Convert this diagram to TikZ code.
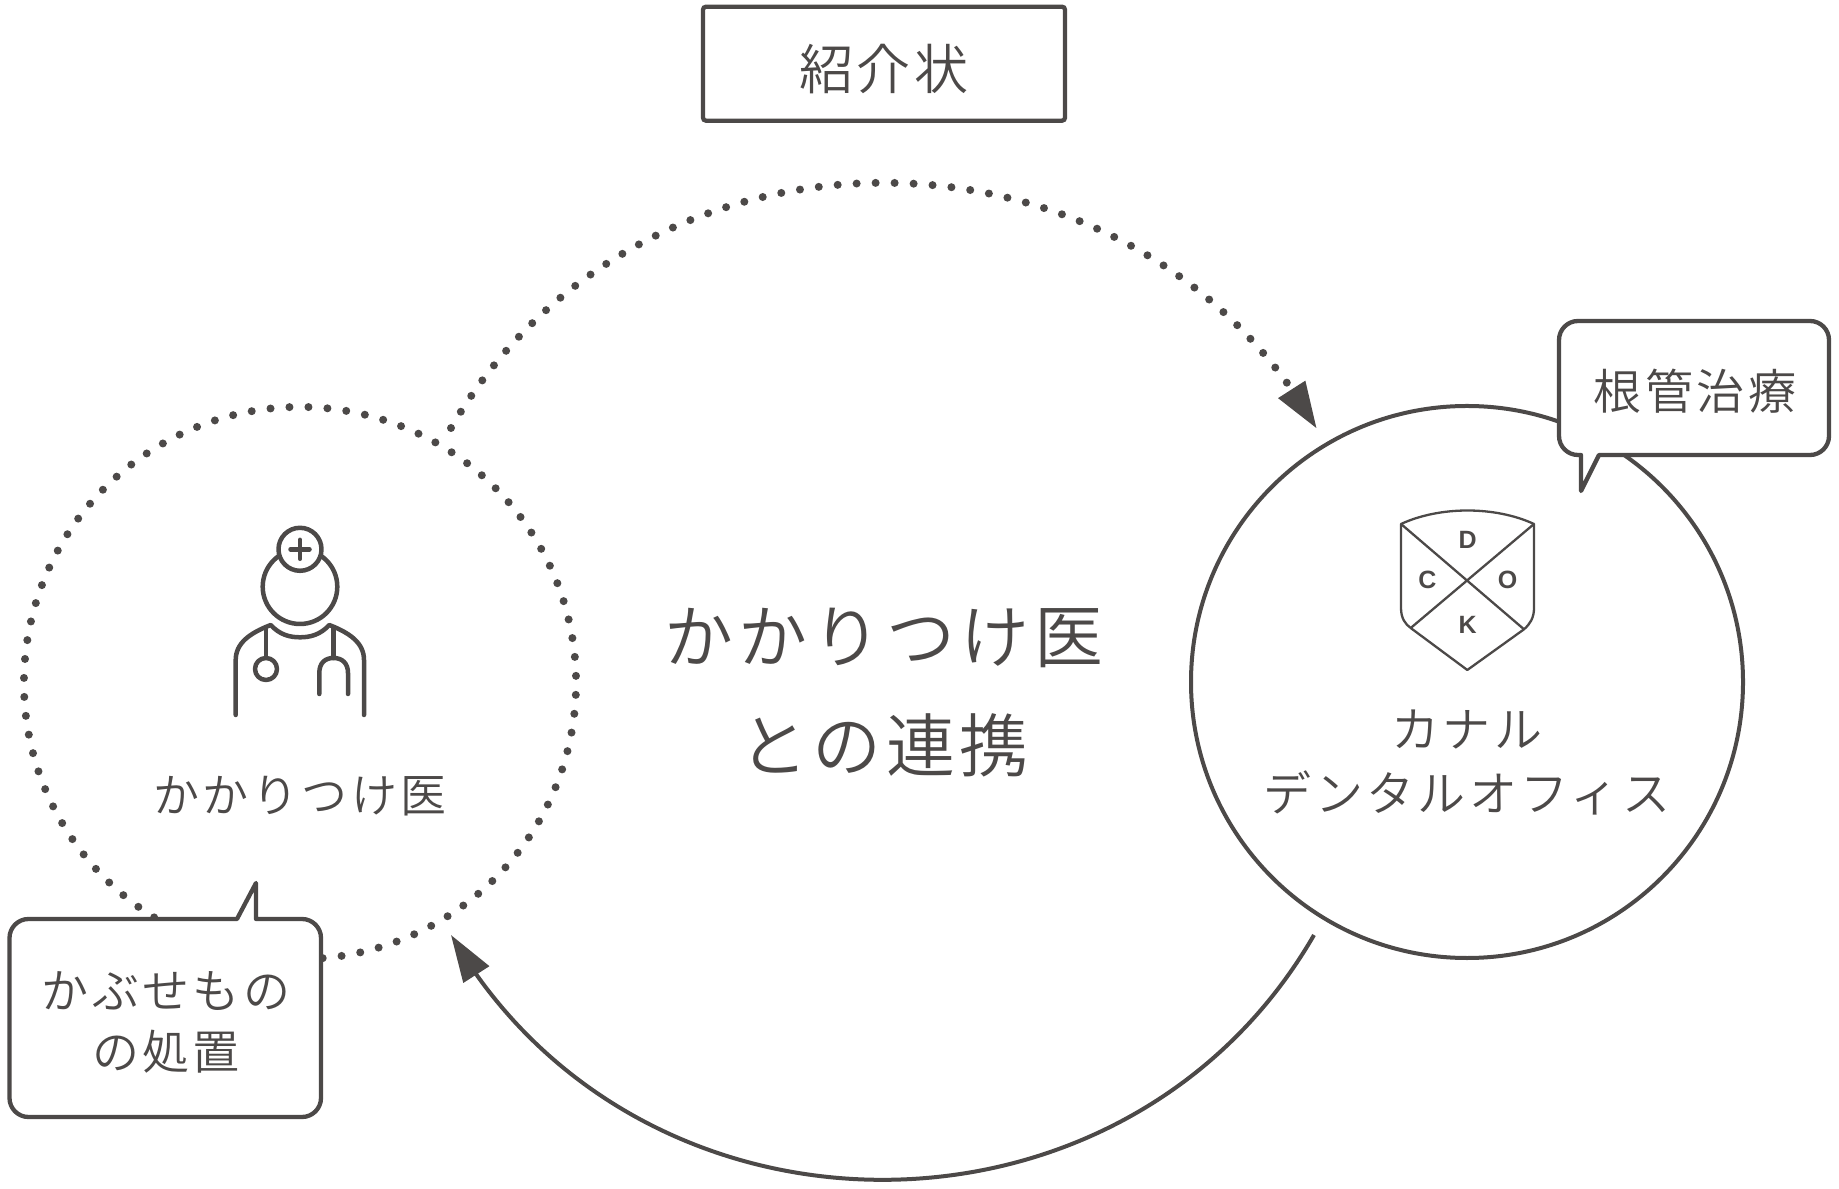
\documentclass[tikz,border=0pt]{standalone}
\usepackage{fontspec}
\usetikzlibrary{arrows.meta,bending}
\newfontfamily\jpfont[LetterSpace=7]{Noto Sans CJK JP DemiLight}
\newfontfamily\logofont{Liberation Sans}[BoldFont={Liberation Sans Bold}]
\definecolor{inkgray}{HTML}{4C4948}
\tikzset{
  jplabel/.style={text=inkgray,align=center,inner sep=0pt,font=\jpfont\fontsize{46bp}{61bp}\selectfont},
  biglabel/.style={jplabel,font=\jpfont\fontsize{69bp}{109bp}\selectfont},
  logoletter/.style={text=inkgray,inner sep=0pt,font=\logofont\bfseries\fontsize{25bp}{25bp}\selectfont},
  bubble/.style={draw=inkgray,fill=white,line width=4.3bp,line join=round},
  solidcircle/.style={circle,draw=inkgray,line width=4bp,minimum size=552bp,inner sep=0pt},
  dotcircle/.style={circle,draw=inkgray,line width=8bp,line cap=round,dash pattern=on 0pt off 19bp,minimum size=552bp,inner sep=0pt},
  iconline/.style={draw=inkgray,line width=4.5bp,line cap=round,line join=round},
  shieldline/.style={draw=inkgray,line width=2.3bp,line join=round},
  bigarrow/.style={draw=inkgray,-{Triangle[length=47bp,width=30bp,fill=inkgray,flex]}},
}
\begin{document}
\begin{tikzpicture}[x=1bp,y=1bp]
\useasboundingbox (0,0) rectangle (1839,1188);
%%
\coordinate (top_start) at (451,760);
\coordinate (top_end) at (1317,759);
\coordinate (bottom_start) at (1314,253);
\coordinate (bottom_end) at (451,253);
\node (doctor_circle) at (300,505) [dotcircle,rotate=-105] {};
\node (clinic_circle) at (1467,506) [solidcircle] {};
\draw [bigarrow,line width=8bp,line cap=round,dash pattern=on 0pt off 19bp] (top_start) to [bend left=60,looseness=1.12] (top_end);
\draw [bigarrow,line width=4bp] (bottom_start) to [bend left=60,looseness=1.12] (bottom_end);
%
\node (letter_box) at (884,1124.3) [draw=inkgray,line width=4.3bp,rounded corners=3bp,minimum width=362bp,minimum height=114bp] {};
\node (letter_label) at (884,1119) [jplabel,font=\jpfont\fontsize{54bp}{60bp}\selectfont] {紹介状};
\node (center_label) at (884,495.5) [biglabel] {かかりつけ医\\との連携};
\node (doctor_label) at (300,392) [jplabel] {かかりつけ医};
\node (clinic_label) at (1467,425) [jplabel,font=\jpfont\fontsize{48bp}{64bp}\selectfont] {カナル\\デンタルオフィス};
% bubbles
\draw [bubble,rounded corners=19bp] (1559,733) -- (1559,867) -- (1829,867) -- (1829,733) [sharp corners] -- (1599,733) -- (1581,697) -- (1581,733) [rounded corners=19bp] -- cycle;
\node (root_label) at (1695,797) [jplabel,font=\jpfont\fontsize{48bp}{61bp}\selectfont] {根管治療};
\draw [bubble,rounded corners=19bp] (9.5,71) -- (9.5,269) [sharp corners] -- (237,269) -- (256,305) -- (256,269) [rounded corners=19bp] -- (321,269) -- (321,71) -- cycle;
\node (crown_label) at (166,166) [jplabel,font=\jpfont\fontsize{47bp}{61bp}\selectfont] {かぶせもの\\の処置};
% doctor icon
\draw [iconline] (300,601.3) circle [radius=37.3];
\draw [iconline,fill=white] (300,638.7) circle [radius=21.5];
\draw [iconline] (290.5,638.7) -- (309.5,638.7) (300,629.2) -- (300,648.2);
\draw [iconline] (235.7,473) -- (235.7,528) .. controls (235.7,545) and (250,555) .. (270.7,563) .. controls (280,553) and (290,550.7) .. (300,550.7) .. controls (310,550.7) and (320,553) .. (329.3,563) .. controls (350,555) and (364,545) .. (364,528) -- (364,473);
\draw [iconline] (266,560) -- (266,530) (333.3,560) -- (333.3,530);
\draw [iconline] (266,519) circle [radius=11];
\draw [iconline] (319.3,494) -- (319.3,515) .. controls (319.3,525) and (325,530) .. (333.5,530) .. controls (342,530) and (348,525) .. (348,515) -- (348,494);
% shield
\draw [shieldline] (1401,664) .. controls (1440,682) and (1495,682) .. (1534,664) -- (1534,580) .. controls (1534,570) and (1530,564) .. (1524,558.7) -- (1467.3,518) -- (1410.7,560) .. controls (1405,564) and (1401,570) .. (1401,580) -- cycle;
\draw [shieldline] (1401,664) -- (1524,558.7) (1534,664) -- (1410.7,560);
\node (logo_d) at (1467.7,648) [logoletter] {D};
\node (logo_c) at (1427.3,608) [logoletter] {C};
\node (logo_o) at (1507.7,608) [logoletter] {O};
\node (logo_k) at (1467.7,563) [logoletter] {K};
%
\end{tikzpicture}
\end{document}
